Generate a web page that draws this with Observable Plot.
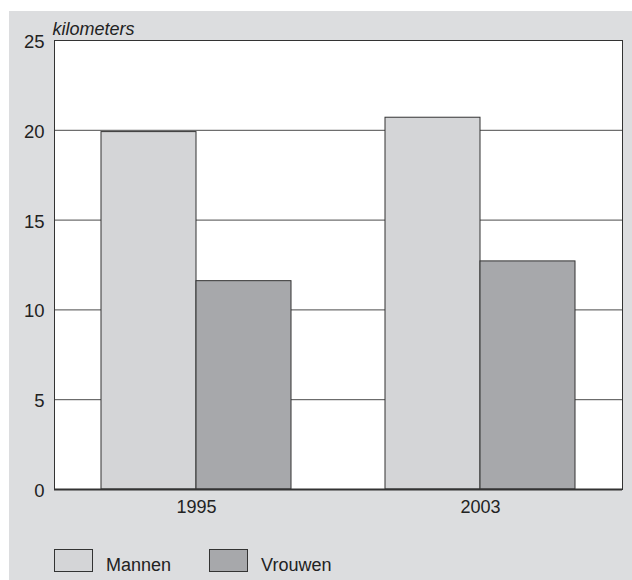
<!DOCTYPE html>
<html>
<head>
<meta charset="utf-8">
<script src="https://cdn.jsdelivr.net/npm/d3@7"></script>
<script src="https://cdn.jsdelivr.net/npm/@observablehq/plot@0.6"></script>
<style>
  html, body { margin: 0; padding: 0; background: #ffffff; }
  #panel {
    position: absolute; left: 9px; top: 11px; width: 623px; height: 569px;
    background: #dcdddf; font-family: "Liberation Sans", Arial, sans-serif; color: #222;
  }
  #chart { position: absolute; left: 0; top: 0; }
  #legend { position: absolute; left: 45px; top: 538px; display: flex; align-items: flex-start; font-size: 18px; line-height: 18px; }
  .item { display: flex; align-items: flex-start; margin-right: 38px; }
  .sw { width: 39px; height: 23px; box-sizing: border-box; border: 1px solid #333; margin-right: 13px; }
  .item span { margin-top: 7px; }
</style>
</head>
<body>
<div id="panel"><div id="chart"></div><div id="legend"></div></div>
<script>
const years = ["1995", "2003"];
const series = ["Mannen", "Vrouwen"];
const mannen = [19.9, 20.7];
const vrouwen = [11.6, 12.7];
const yTicks = [0, 5, 10, 15, 20, 25];
const yLabel = "kilometers";
const colors = ["#d4d5d7", "#a7a8ab"];

const rows = [];
years.forEach((y, i) => {
  rows.push({year: y, series: series[0], value: mannen[i]});
  rows.push({year: y, series: series[1], value: vrouwen[i]});
});

const chart = Plot.plot({
  width: 623,
  height: 515,
  marginLeft: 45,
  marginRight: 10,
  marginTop: 29,
  marginBottom: 37,
  style: {background: "transparent", fontFamily: "'Liberation Sans', Arial, sans-serif", fontSize: "18px", color: "#222"},
  x: {domain: years, padding: 0, label: null, tickSize: 0, tickPadding: 11},
  y: {domain: [0, 25], ticks: yTicks, label: null, tickSize: 0, tickPadding: 11},
  color: {domain: series, range: colors},
  marks: [
    Plot.frame({fill: "#ffffff", stroke: "none"}),
    Plot.ruleY(yTicks.slice(1, -1), {stroke: "#4a4a4a", strokeWidth: 1}),
    Plot.barY(rows.filter(d => d.series === series[0]), {x: "year", y: "value", fill: "series", stroke: "#333", strokeWidth: 1, insetLeft: 47, insetRight: 142}),
    Plot.barY(rows.filter(d => d.series === series[1]), {x: "year", y: "value", fill: "series", stroke: "#333", strokeWidth: 1, insetLeft: 142, insetRight: 47}),
    Plot.frame({stroke: "#333", strokeWidth: 1}),
    Plot.ruleY([0], {stroke: "#333", strokeWidth: 2}),
    Plot.axisX({tickSize: 0, tickPadding: 11, fontSize: 18, label: null}),
    Plot.axisY({ticks: yTicks, tickSize: 0, tickPadding: 10, dy: 1.5, fontSize: 18.5, label: null}),
    Plot.text([yLabel], {frameAnchor: "top-left", dx: -2, dy: -6, fontSize: 18, fontStyle: "italic", textAnchor: "start", lineAnchor: "bottom"})
  ]
});
document.getElementById("chart").appendChild(chart);

const legend = document.getElementById("legend");
series.forEach((s, i) => {
  const it = document.createElement("div");
  it.className = "item";
  const sw = document.createElement("div");
  sw.className = "sw";
  sw.style.background = colors[i];
  const t = document.createElement("span");
  t.textContent = s;
  it.appendChild(sw); it.appendChild(t);
  legend.appendChild(it);
});
</script>
</body>
</html>
